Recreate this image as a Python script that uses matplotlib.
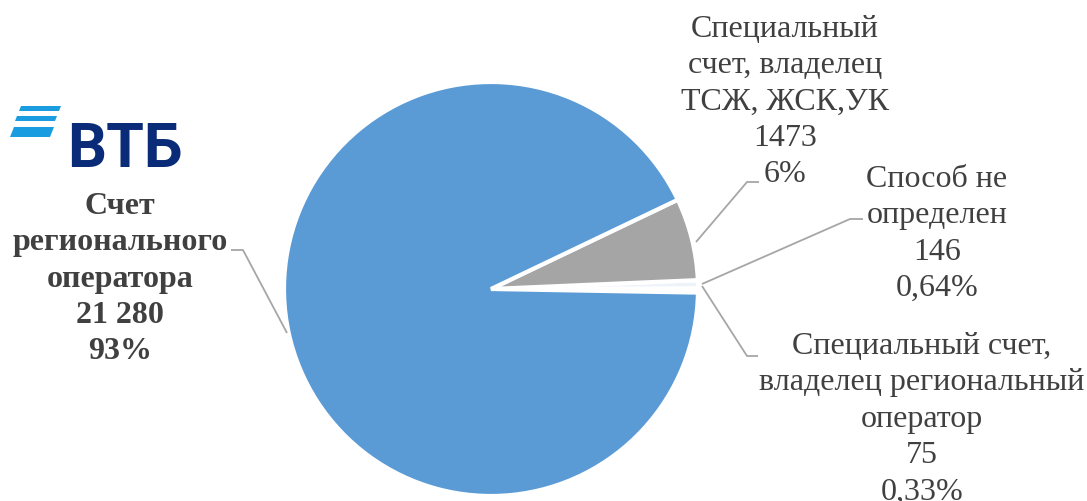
import matplotlib
matplotlib.use("Agg")
import matplotlib.pyplot as plt
from matplotlib import font_manager
from matplotlib.patches import Polygon

# ---- data ----
categories = ["Специальный счет,\nвладелец региональный\nоператор",
              "Способ не\nопределен",
              "Специальный\nсчет, владелец\nТСЖ, ЖСК,УК",
              "Счет\nрегионального\nоператора"]
values = [75, 146, 1473, 21280]
value_labels = ["75", "146", "1473", "21 280"]
pct_labels = ["0,33%", "0,64%", "6%", "93%"]
colors = ["#e9f0f9", "#eef3fa", "#a5a5a5", "#5b9bd5"]

W, H = 1087, 502
fig = plt.figure(figsize=(W / 100, H / 100), dpi=100)
ax = fig.add_axes([0, 0, 1, 1])

def Y(y):
    return H - y

cx, cy, R = 491, 290, 207
ax.pie(values, colors=colors, startangle=-1, counterclock=True,
       center=(cx, Y(cy)), radius=R,
       wedgeprops=dict(edgecolor="white", linewidth=3))
ax.set_xlim(0, W)
ax.set_ylim(0, H)
ax.set_aspect("auto")
ax.axis("off")

serif = "Liberation Serif"
tcol = "#404040"
fs = 23

# label positions (pixel centers) and leader lines
label_pos = [(922, 419), (937, 234), (785, 102), (120, 279)]
leaders = [
    [(702, 287), (747, 357), (758, 357)],
    [(863, 220), (850, 220), (702, 285)],
    [(759, 183), (747, 183), (696, 243)],
    [(231, 251), (243, 251), (287, 334)],
]
for i, cat in enumerate(categories):
    txt = f"{cat}\n{value_labels[i]}\n{pct_labels[i]}"
    x, y = label_pos[i]
    ax.text(x, Y(y), txt, ha="center", va="center", fontsize=fs,
            family=serif, color=tcol, linespacing=1.34,
            fontweight="bold" if i == 3 else "normal")
    xs = [p[0] for p in leaders[i]]
    ys = [Y(p[1]) for p in leaders[i]]
    ax.plot(xs, ys, color="#a6a6a6", lw=1.3, solid_capstyle="butt")

# ---- VTB logo ----
stripe_col = "#1a9de0"
stripes = [
    [(21, 107), (61, 107), (59, 112), (19, 112)],
    [(17, 117), (57, 117), (55, 122), (15, 122)],
    [(14, 128), (54, 128), (50, 138), (10, 138)],
]
for s in stripes:
    ax.add_patch(Polygon([(x, Y(y)) for x, y in s], closed=True,
                         facecolor=stripe_col, edgecolor="none"))

names = {f.name for f in font_manager.fontManager.ttflist}
logo_font = "Liberation Sans Narrow" if "Liberation Sans Narrow" in names else "Roboto"
logo_size = 48 if logo_font == "Liberation Sans Narrow" else 44
ax.text(67, Y(167), "ВТБ", ha="left", va="baseline", fontsize=logo_size,
        family=logo_font, fontweight="bold", color="#0a2b78")

fig.savefig("out.png", dpi=100)
